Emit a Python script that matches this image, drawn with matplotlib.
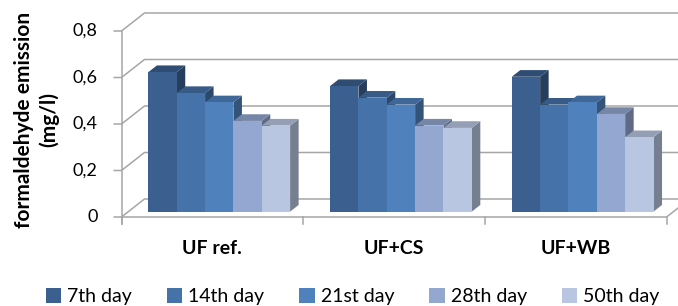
import numpy as np
import matplotlib.pyplot as plt
from matplotlib.patches import Polygon, Patch

plt.rcParams['font.family'] = ['Lato', 'DejaVu Sans']

categories = ['UF ref.', 'UF+CS', 'UF+WB']
series = ['7th day', '14th day', '21st day', '28th day', '50th day']
day7 = [0.60, 0.54, 0.58]
day14 = [0.51, 0.49, 0.46]
day21 = [0.47, 0.46, 0.47]
day28 = [0.39, 0.37, 0.42]
day50 = [0.37, 0.36, 0.32]
y_ticks = [0, 0.2, 0.4, 0.6, 0.8]
y_tick_labels = ['0', '0,2', '0,4', '0,6', '0,8']
colors = ['#3B5F8E', '#4572A8', '#4F81BD', '#94A7D0', '#B9C6E1']

values = [day7, day14, day21, day28, day50]

# pixel scale of the front plane -> data units
PX_X = 181.7
PX_Y = 232.5
DX = 23 / PX_X   # depth offset of the back wall
DY = 18 / PX_Y
FRONT = 0.30     # depth fraction where bars start
DEPTH = 0.37     # bar depth fraction
BAR_W = 0.156
GRID = '#A6A6A6'


def shade(c, f):
    r, g, b = [int(c[i:i + 2], 16) for i in (1, 3, 5)]
    return (r * f / 255, g * f / 255, b * f / 255)


fig = plt.figure(figsize=(6.78, 3.06), dpi=100)
ax = fig.add_axes([0, 0, 1, 1])
ax.set_xlim(-0.5 - 121.5 / PX_X, -0.5 + (678 - 121.5) / PX_X)
ax.set_ylim(-(306 - 217) / PX_Y, 217 / PX_Y)
ax.axis('off')

xmax = ax.get_xlim()[1]
# walls / gridlines
for t, lab in zip(y_ticks, y_tick_labels):
    ax.plot([-0.5 - 8 / PX_X, -0.5, -0.5 + DX, xmax], [t, t, t + DY, t + DY],
            color=GRID, lw=1.1, zorder=1, solid_capstyle='butt')
    ax.text(-0.5 - 24 / PX_X, t, lab, ha='right', va='center', fontsize=13, color='#000000')
ax.plot([-0.5, -0.5], [-7 / PX_Y, y_ticks[-1]], color=GRID, lw=1.1, zorder=1)
n = len(categories)
ax.plot([-0.5, n - 0.5, n - 0.5 + DX], [0, 0, DY], color=GRID, lw=1.1, zorder=1)
for b in np.arange(n + 1) - 0.5:
    ax.plot([b, b], [0, -7 / PX_Y], color=GRID, lw=1.1, zorder=1)

# 3D bars
ox, oy = FRONT * DX, FRONT * DY
dx, dy = DEPTH * DX, DEPTH * DY
for i in range(n):
    for j, vals in enumerate(values):
        v = vals[i]
        x0 = i - 2.5 * BAR_W + j * BAR_W + ox
        x1 = x0 + BAR_W
        y0 = oy
        y1 = oy + v
        side = Polygon([(x1, y0), (x1 + dx, y0 + dy), (x1 + dx, y1 + dy), (x1, y1)],
                       closed=True, fc=shade(colors[j], 0.64), ec='none', zorder=2)
        top = Polygon([(x0, y1), (x0 + dx, y1 + dy), (x1 + dx, y1 + dy), (x1, y1)],
                      closed=True, fc=shade(colors[j], 0.80), ec='none', zorder=2)
        front = Polygon([(x0, y0), (x1, y0), (x1, y1), (x0, y1)],
                        closed=True, fc=colors[j], ec='none', zorder=2)
        for p in (side, top, front):
            ax.add_patch(p)

for i, c in enumerate(categories):
    ax.text(i, -31 / PX_Y, c, ha='center', va='center', fontsize=14, fontweight='bold')

ax.text(-0.5 - 85 / PX_X, 0.418, 'formaldehyde emission\n(mg/l)', rotation=90,
        ha='center', va='center', fontsize=15, fontweight='bold', linespacing=1.25)

handles = [Patch(fc=c, ec='none', label=s) for c, s in zip(colors, series)]
ax.legend(handles=handles, loc='center', bbox_to_anchor=(0.52, 0.03), ncol=5, frameon=False,
          fontsize=14, handlelength=0.8, handleheight=0.8, handletextpad=0.3,
          columnspacing=1.8, borderaxespad=0)

fig.savefig('out.png', dpi=100)
